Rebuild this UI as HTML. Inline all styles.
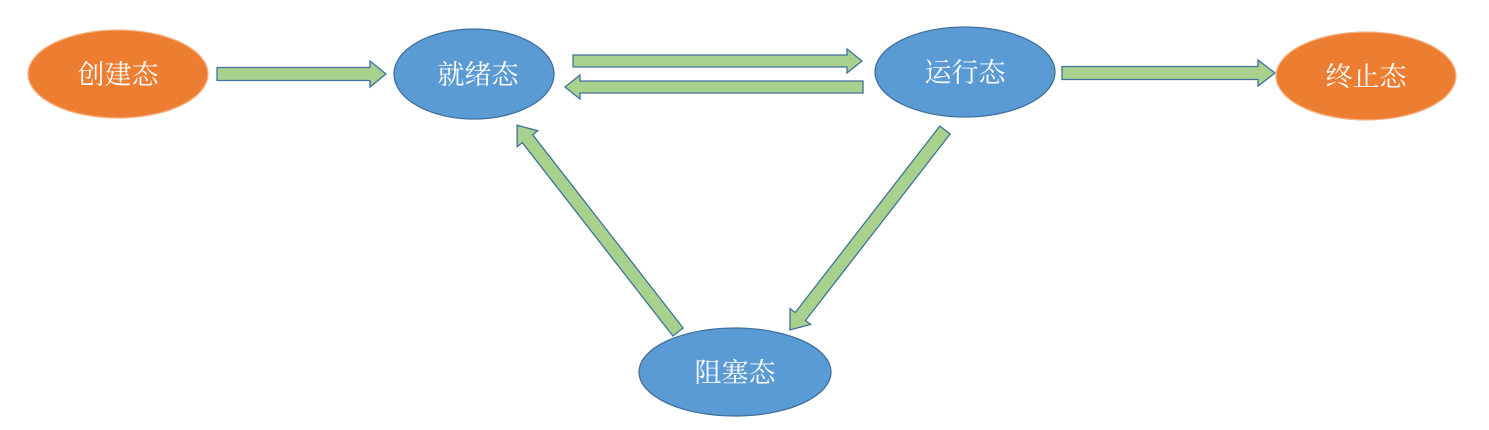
<!DOCTYPE html>
<html><head><meta charset="utf-8"><style>
html,body{margin:0;padding:0;background:#fff;width:1489px;height:430px;overflow:hidden}
text{font-family:"Liberation Serif","Noto Serif CJK SC",serif;font-size:27px;fill:#fff}
</style></head><body>
<svg width="1489" height="430" viewBox="0 0 1489 430" xmlns="http://www.w3.org/2000/svg">
<g fill="#A9D18E" stroke="#41719C" stroke-width="1.3">
<g transform="translate(217,74)"><polygon points="0,-6.5 153,-6.5 153,-13 169,0 153,13 153,6.5 0,6.5"/></g>
<g transform="translate(573,61)"><polygon points="0,-6 274,-6 274,-12 289,0 274,12 274,6 0,6"/></g>
<g transform="translate(863,87) rotate(180)"><polygon points="0,-6 283,-6 283,-12 298,0 283,12 283,6 0,6"/></g>
<g transform="translate(1062,73)"><polygon points="0,-6.5 196,-6.5 196,-13 213,0 196,13 196,6.5 0,6.5"/></g>
<g transform="translate(945,130) rotate(127.8)"><polygon points="0,-6.5 236,-6.5 236,-13 253,0 236,13 236,6.5 0,6.5"/></g>
<g transform="translate(678,332) rotate(-127.9)"><polygon points="0,-6.5 245,-6.5 245,-13 262,0 245,13 245,6.5 0,6.5"/></g>
</g>
<g stroke-width="1.3">
<ellipse cx="118" cy="74" rx="90" ry="44" fill="#ED7D31" stroke="#F4B183"/>
<ellipse cx="474" cy="74" rx="80" ry="45" fill="#5B9BD5" stroke="#41719C"/>
<ellipse cx="965" cy="72" rx="90" ry="45" fill="#5B9BD5" stroke="#41719C"/>
<ellipse cx="1366" cy="76" rx="90" ry="44" fill="#ED7D31" stroke="#F4B183"/>
<ellipse cx="735" cy="372" rx="96" ry="44" fill="#5B9BD5" stroke="#41719C"/>
</g>
<text x="118" y="84" text-anchor="middle">创建态</text>
<text x="478" y="84" text-anchor="middle">就绪态</text>
<text x="965" y="82" text-anchor="middle">运行态</text>
<text x="1366" y="86" text-anchor="middle">终止态</text>
<text x="735" y="382" text-anchor="middle">阻塞态</text>
</svg>
</body></html>
